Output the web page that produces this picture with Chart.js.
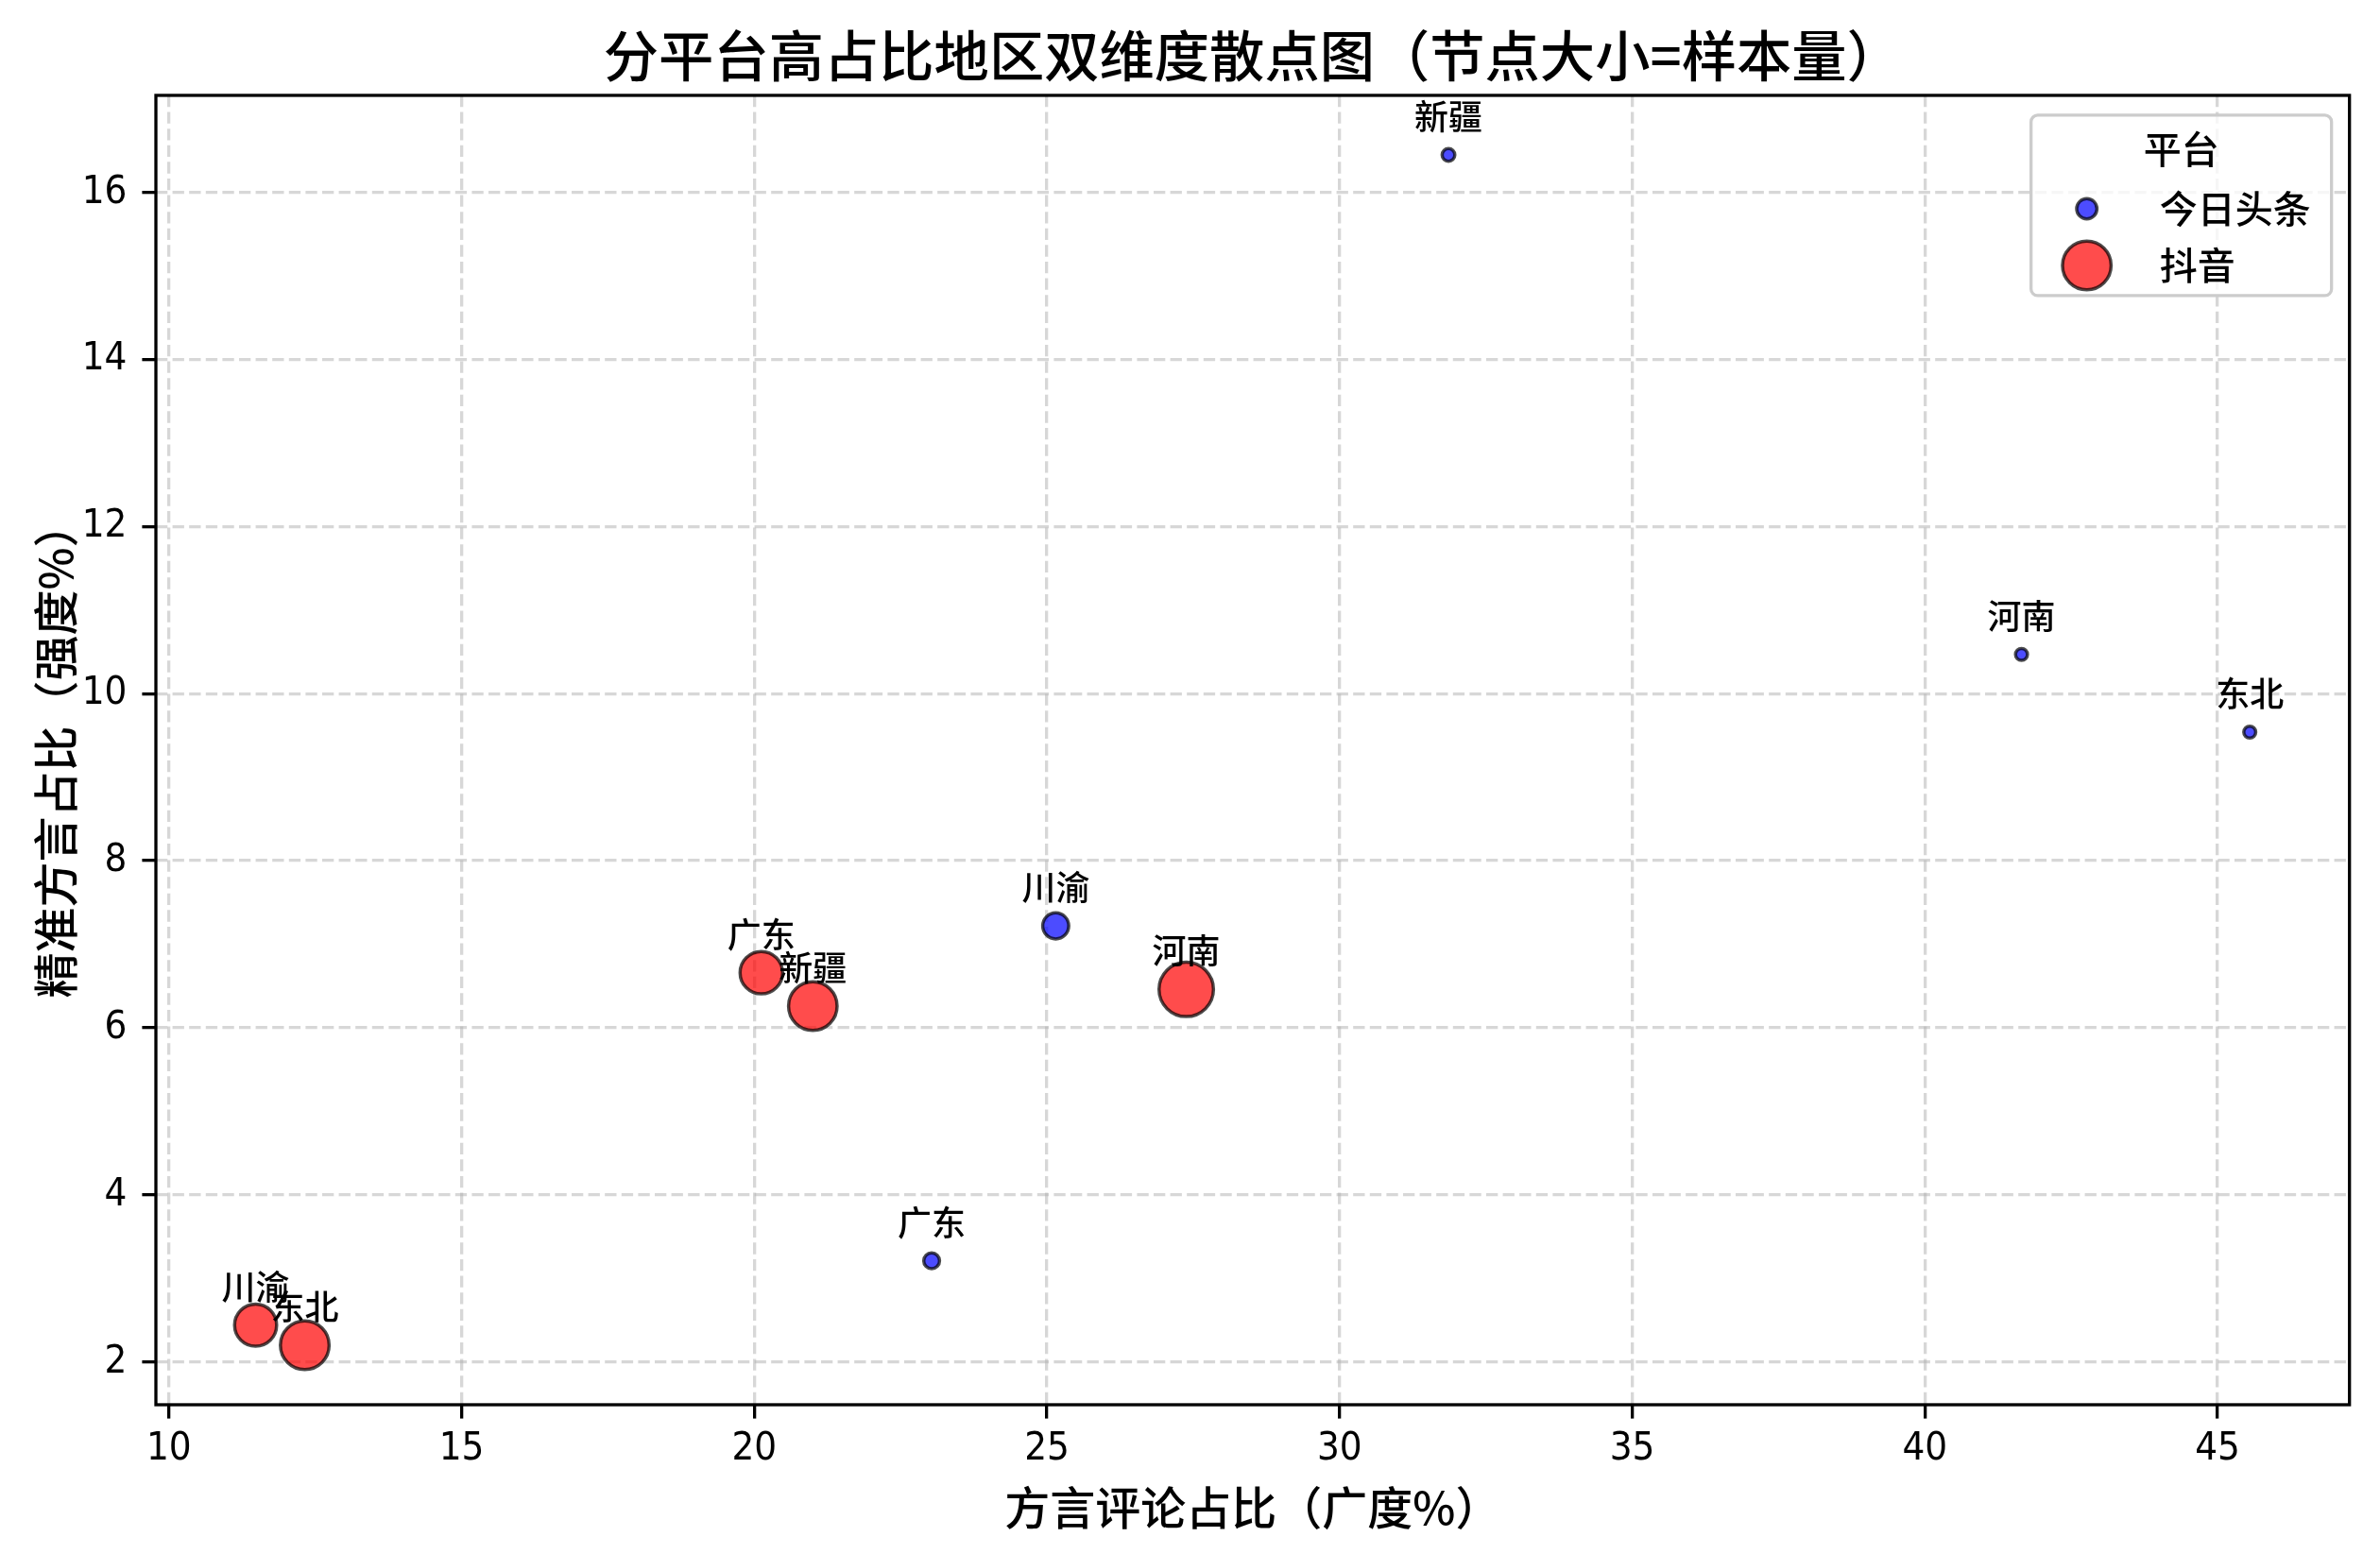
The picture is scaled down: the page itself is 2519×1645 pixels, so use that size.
<!DOCTYPE html>
<html lang="zh">
<head>
<meta charset="utf-8">
<title>分平台高占比地区双维度散点图</title>
<script src="https://cdn.jsdelivr.net/npm/chart.js@4.4.1/dist/chart.umd.min.js"></script>
<style>
  html, body { margin: 0; padding: 0; background: #fff; overflow: hidden; }
  #wrap { width: 2519px; height: 1645px; }
</style>
</head>
<body>
<div id="wrap"><canvas id="myPlot" width="2519" height="1645"></canvas></div>
<script>
/* global Chart */
const regions = ['川渝', '东北', '广东', '河南', '新疆'];
const platforms = ['今日头条', '抖音'];

// 今日头条：广度 / 强度 / 样本量
const ttBreadth = [25.15, 45.55, 23.03, 41.65, 31.86];
const ttStrength = [7.22, 9.54, 3.21, 10.47, 16.45];
const ttSamples = [190, 40, 70, 40, 45];

// 抖音
const dyBreadth = [11.48, 12.32, 20.12, 27.38, 21.00];
const dyStrength = [2.44, 2.20, 6.66, 6.46, 6.26];
const dySamples = [495, 665, 505, 830, 660];

const xTicks = [10, 15, 20, 25, 30, 35, 40, 45];
const yTicks = [2, 4, 6, 8, 10, 12, 14, 16];

const numFont = "'Liberation Sans Narrow', 'DejaVu Sans Condensed', 'Noto Sans CJK SC', sans-serif";
const cjkFont = "'Noto Sans CJK SC', sans-serif";
const edgeWidth = 3.5;

// axis limits like matplotlib's 5% margins
function limits(a, b) {
  var all = a.concat(b);
  var lo = Math.min.apply(null, all), hi = Math.max.apply(null, all);
  var pad = (hi - lo) * 0.05;
  return [lo - pad, hi + pad];
}
const xLim = limits(ttBreadth, dyBreadth);
const yLim = limits(ttStrength, dyStrength);

function toPoints(xs, ys) {
  return xs.map((x, i) => ({x: x, y: ys[i]}));
}
function radii(samples) {
  return samples.map(n => Math.sqrt(n));
}

const extras = {
  id: 'extras',
  afterDatasetsDraw(chart) {
    const ctx = chart.ctx, ca = chart.chartArea;
    ctx.save();
    // frame (all four spines)
    ctx.strokeStyle = '#000';
    ctx.lineWidth = 3.3;
    ctx.strokeRect(ca.left, ca.top, ca.right - ca.left, ca.bottom - ca.top);

    // region labels above each point
    ctx.fillStyle = '#000';
    ctx.font = '500 36px ' + cjkFont;
    ctx.textAlign = 'center';
    ctx.textBaseline = 'alphabetic';
    chart.data.datasets.forEach((ds, i) => {
      chart.getDatasetMeta(i).data.forEach((pt, j) => {
        ctx.fillText(regions[j], pt.x, pt.y - 27);
      });
    });

    // legend (upper right, inside the axes)
    const w = 318, h = 191, rr = 7;
    const right = ca.right - 19, top = ca.top + 21, left = right - w;
    ctx.beginPath();
    ctx.moveTo(left + rr, top);
    ctx.lineTo(right - rr, top);
    ctx.arcTo(right, top, right, top + rr, rr);
    ctx.lineTo(right, top + h - rr);
    ctx.arcTo(right, top + h, right - rr, top + h, rr);
    ctx.lineTo(left + rr, top + h);
    ctx.arcTo(left, top + h, left, top + h - rr, rr);
    ctx.lineTo(left, top + rr);
    ctx.arcTo(left, top, left + rr, top, rr);
    ctx.closePath();
    ctx.fillStyle = 'rgba(255,255,255,0.8)';
    ctx.fill();
    ctx.strokeStyle = '#cccccc';
    ctx.lineWidth = 3.3;
    ctx.stroke();

    ctx.fillStyle = '#000';
    ctx.font = '500 40px ' + cjkFont;
    ctx.textAlign = 'center';
    ctx.textBaseline = 'middle';
    ctx.fillText('平台', left + w / 2, top + 36);

    chart.data.datasets.forEach((ds, i) => {
      const y = top + 99 + i * 60;
      const s = ds.samples;
      const r = Math.sqrt((Math.max.apply(null, s) + Math.min.apply(null, s)) / 2);
      ctx.beginPath();
      ctx.arc(left + 59, y, r, 0, Math.PI * 2);
      ctx.fillStyle = ds.backgroundColor;
      ctx.fill();
      ctx.lineWidth = edgeWidth;
      ctx.strokeStyle = ds.borderColor;
      ctx.stroke();
      ctx.fillStyle = '#000';
      ctx.textAlign = 'left';
      ctx.fillText(ds.label, left + 136, y);
    });
    ctx.restore();
  }
};

function axis(lim, ticks, title, isX) {
  return {
    type: 'linear',
    position: isX ? 'bottom' : 'left',
    min: lim[0],
    max: lim[1],
    afterBuildTicks: s => { s.ticks = ticks.map(v => ({value: v})); },
    afterFit: s => { if (isX) { s.height = 158; } else { s.width = 165; } },
    grid: {
      color: 'rgba(176,176,176,0.5)',
      lineWidth: 3.3,
      tickColor: '#000',
      tickWidth: 3.3,
      tickLength: 14.6
    },
    border: { display: false, dash: [12.3, 5.3] },
    ticks: {
      color: '#000',
      font: { family: numFont, size: 41.7 },
      padding: isX ? 8 : 16,
      maxRotation: 0,
      autoSkip: false
    },
    title: {
      display: true,
      text: title,
      color: '#000',
      font: { family: cjkFont, size: 48, weight: 500 },
      padding: isX ? { top: 0, bottom: 20 } : { top: 30, bottom: 0 }
    }
  };
}

var myChart = new Chart(document.getElementById('myPlot').getContext('2d'), {
  type: 'scatter',
  data: {
    datasets: [{
      label: platforms[0],
      data: toPoints(ttBreadth, ttStrength),
      samples: ttSamples,
      pointRadius: radii(ttSamples),
      backgroundColor: 'rgba(0,0,255,0.7)',
      borderColor: 'rgba(0,0,0,0.7)',
      borderWidth: edgeWidth,
      order: 1
    }, {
      label: platforms[1],
      data: toPoints(dyBreadth, dyStrength),
      samples: dySamples,
      pointRadius: radii(dySamples),
      backgroundColor: 'rgba(255,0,0,0.7)',
      borderColor: 'rgba(0,0,0,0.7)',
      borderWidth: edgeWidth,
      order: 0
    }]
  },
  options: {
    responsive: false,
    devicePixelRatio: 1,
    animation: false,
    events: [],
    layout: { padding: { left: 0, right: 30, top: 0, bottom: 0 } },
    scales: {
      x: axis(xLim, xTicks, '方言评论占比（广度%）', true),
      y: axis(yLim, yTicks, '精准方言占比（强度%）', false)
    },
    plugins: {
      legend: { display: false },
      tooltip: { enabled: false },
      title: {
        display: true,
        fullSize: false,
        text: '分平台高占比地区双维度散点图（节点大小=样本量）',
        color: '#000',
        font: { family: cjkFont, size: 58.3, weight: 500 },
        padding: { top: 24, bottom: 7 }
      }
    }
  },
  plugins: [extras]
});
</script>
</body>
</html>
